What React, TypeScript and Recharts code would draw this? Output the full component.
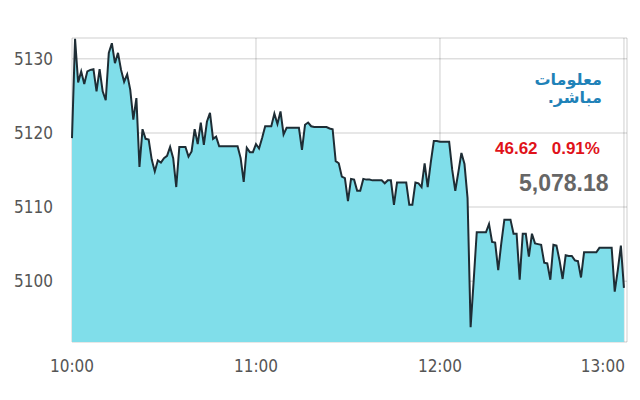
import React from "react";
import { AreaChart, Area, XAxis, YAxis, CartesianGrid } from "recharts";

// Index value per minute after 10:00 (minute 0 = 10:00, minute 180 = 13:00)
const values: number[] = [
  5119.3, 5132.7, 5126.8, 5128.3, 5126.6, 5128.3, 5128.5, 5128.6, 5125.6, 5128.6,
  5125.6, 5124.4, 5130.8, 5132.1, 5129.4, 5130.8, 5128.5, 5126.9, 5127.9, 5125.8,
  5121.8, 5124.7, 5115.4, 5120.5, 5119.2, 5119.1, 5116.4, 5114.8, 5116.3, 5116.0,
  5116.6, 5116.9, 5118.1, 5116.6, 5112.7, 5118.1, 5118.1, 5118.1, 5116.8, 5117.5,
  5120.5, 5118.5, 5121.4, 5118.4, 5121.5, 5122.7, 5119.2, 5119.5, 5118.2, 5118.2,
  5118.2, 5118.2, 5118.2, 5118.2, 5118.2, 5116.6, 5113.4, 5118.0, 5117.4, 5117.4,
  5118.5, 5117.9, 5119.3, 5120.9, 5120.9, 5120.9, 5122.6, 5121.2, 5122.9, 5119.8,
  5120.7, 5120.7, 5120.7, 5120.7, 5120.7, 5117.7, 5121.1, 5121.4, 5120.9, 5120.8,
  5120.8, 5120.8, 5120.8, 5120.8, 5120.6, 5120.5, 5116.2, 5115.9, 5114.1, 5113.9,
  5110.8, 5113.8, 5113.7, 5112.2, 5112.2, 5113.8, 5113.7, 5113.7, 5113.6, 5113.6,
  5113.6, 5113.6, 5113.2, 5113.6, 5113.6, 5110.3, 5113.3, 5113.3, 5113.3, 5113.3,
  5110.3, 5110.3, 5113.3, 5113.2, 5112.7, 5115.9, 5112.7, 5116.0, 5118.9, 5118.9,
  5118.8, 5118.8, 5118.8, 5118.8, 5115.0, 5112.2, 5114.7, 5117.3, 5115.8, 5111.2,
  5093.8, 5100.1, 5106.6, 5106.6, 5106.6, 5106.6, 5107.7, 5105.3, 5105.2, 5101.5,
  5105.1, 5108.3, 5108.3, 5108.3, 5106.4, 5106.4, 5100.2, 5106.4, 5106.4, 5103.3,
  5106.4, 5105.1, 5105.0, 5104.9, 5102.5, 5102.4, 5100.2, 5104.9, 5104.8, 5102.8,
  5100.3, 5103.5, 5103.4, 5103.4, 5102.8, 5102.7, 5100.5, 5103.9, 5103.9, 5103.9,
  5103.9, 5103.9, 5104.5, 5104.5, 5104.5, 5104.5, 5104.5, 5098.6, 5101.5, 5104.8,
  5099.1,
];

const xTicks: number[] = [0, 60, 120, 180];
const xTickLabels: string[] = ["10:00", "11:00", "12:00", "13:00"];
const yTicks: number[] = [5100, 5110, 5120, 5130];

const changeText = "46.62";
const pctText = "0.91%";
const lastText = "5,078.18";
const logoLine1 = "معلومات";
const logoLine2 = "مباشر.";

const data = values.map((v, i) => ({ m: i, v }));

const tickFont = "'Liberation Sans Narrow', 'DejaVu Sans Condensed', sans-serif";

const XTick = (props: any) => {
  const { x, y, payload } = props;
  const idx = xTicks.indexOf(payload.value);
  const last = idx === xTicks.length - 1;
  return (
    <text
      x={last ? x + 1 : x}
      y={y}
      dy="0.71em"
      textAnchor={last ? "end" : "middle"}
      fill="#555"
      fontSize={17}
      fontFamily={tickFont}
    >
      {xTickLabels[idx]}
    </text>
  );
};

export default function App() {
  return (
    <div style={{ position: "relative", width: 624, height: 384, fontFamily: "'Liberation Sans', Arial, sans-serif" }}>
      <AreaChart
        width={624}
        height={384}
        data={data}
        margin={{ top: 30, right: 5, bottom: 0, left: 0 }}
      >
        <XAxis
          dataKey="m"
          type="number"
          domain={[0, 181]}
          ticks={xTicks}
          axisLine={false}
          tickLine={false}
          tickSize={0}
          tickMargin={18}
          height={50}
          interval={0}
          tick={<XTick />}
        />
        <YAxis
          type="number"
          domain={[5091.8, 5132.8]}
          allowDataOverflow
          ticks={yTicks}
          axisLine={false}
          tickLine={false}
          tickSize={0}
          tickMargin={19}
          width={64}
          tick={{ fill: "#555", fontSize: 17, fontFamily: tickFont }}
        />
        <Area
          type="linear"
          dataKey="v"
          stroke="#1e2d35"
          strokeWidth={2}
          fill="#80deea"
          fillOpacity={1}
          isAnimationActive={false}
          dot={false}
          activeDot={false}
        />
        <CartesianGrid stroke="#000" strokeOpacity={0.13} strokeWidth={1.5} />
      </AreaChart>
      <div
        style={{
          position: "absolute",
          left: 487,
          top: 131,
          color: "#e0121a",
          fontWeight: "bold",
          fontSize: 17,
          whiteSpace: "pre",
        }}
      >
        {changeText + "   " + pctText}
      </div>
      <div
        style={{
          position: "absolute",
          left: 511,
          top: 162,
          color: "#666",
          fontWeight: "bold",
          fontSize: 23,
        }}
      >
        {lastText}
      </div>
      <div
        dir="rtl"
        style={{
          position: "absolute",
          left: 536,
          width: 58,
          top: 63,
          color: "#1f82b8",
          fontSize: 16,
          lineHeight: "18px",
          fontWeight: "bold",
          fontFamily: "'DejaVu Sans', sans-serif",
          textAlign: "right",
        }}
      >
        <div>{logoLine1}</div>
        <div>{logoLine2}</div>
      </div>
    </div>
  );
}
